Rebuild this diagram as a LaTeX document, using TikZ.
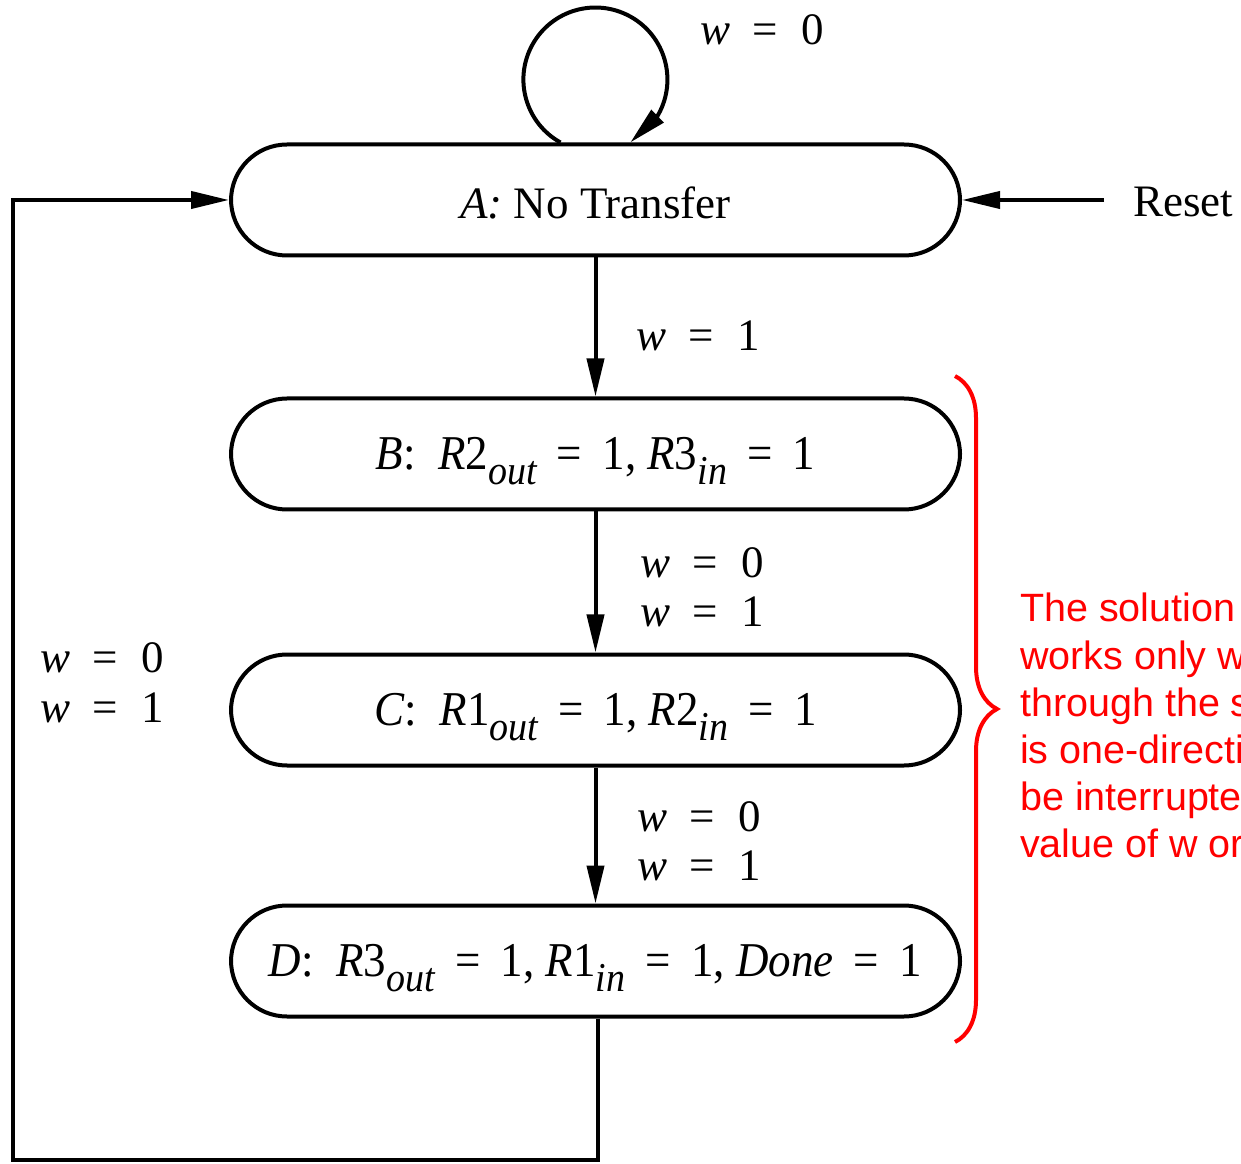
\documentclass[tikz,border=0pt]{standalone}
\usepackage{fontspec}
\setmainfont{Liberation Serif}
\newfontfamily\arialf{Liberation Sans}
\usetikzlibrary{arrows.meta,bending,decorations.pathreplacing}
\newcommand{\sbs}[1]{\raisebox{-0.3em}{\fontsize{38pt}{38pt}\selectfont\itshape #1}}
\newcommand{\eqsp}{\hspace{0.45em}=\hspace{0.45em}}
\newcommand{\weq}[1]{\textit{w}\hspace{22pt}=\hspace{24pt}#1}
\newcommand{\lowr}[1]{\raisebox{-7pt}[\height][\depth]{\scalebox{1}[1.08]{#1}}}
\begin{document}
\begin{tikzpicture}[x=1pt,y=1pt,
  every node/.style={font=\fontsize{45pt}{54pt}\selectfont},
  state/.style={draw, line width=4pt, rounded corners=56pt, minimum width=729pt, minimum height=111pt, inner sep=0pt},
  conn/.style={line width=4pt},
  arr/.style={conn, -{Triangle[length=38pt,width=17pt]}},
  lbl/.style={inner sep=0pt, anchor=west},
  note/.style={inner sep=0pt, anchor=base west, text=red, font=\arialf\fontsize{39.5pt}{47pt}\selectfont}
]
\useasboundingbox (0,0) rectangle (1241,1163);

\node[state] (A) at (595.5,963) {\raisebox{-3pt}[\height][\depth]{\textit{A:} No Transfer}};
\node[state] (B) at (595.5,709) {\lowr{\textit{B}:\ \ \textit{R}2\sbs{out}\eqsp 1, \textit{R}3\sbs{in}\eqsp 1}};
\node[state] (C) at (595.5,453) {\lowr{\textit{C}:\ \ \textit{R}1\sbs{out}\eqsp 1, \textit{R}2\sbs{in}\eqsp 1}};
\node[state] (D) at (595.5,202) {\lowr{\textit{D}:\ \ \textit{R}3\sbs{out}\eqsp 1, \textit{R}1\sbs{in}\eqsp 1, \textit{Done}\eqsp 1}};

% self loop
\draw[arr] ([xshift=-35pt]A.north) arc[start angle=241, end angle=-61, radius=72pt];
\node[lbl] (l0) at (700,1133) {\weq{0}};

% reset
\coordinate (rs) at (1104,963);
\draw[arr] (rs) -- (A.east);
\node[lbl] (reset) at (1133,961) {Reset};

% vertical transitions
\draw[arr] (A.south) -- (B.north);
\node[lbl] (lab1) at (636,827) {\weq{1}};
\draw[arr] (B.south) -- (C.north);
\node[lbl] (lbc0) at (640,600) {\weq{0}};
\node[lbl] (lbc1) at (640,551) {\weq{1}};
\draw[arr] (C.south) -- (D.north);
\node[lbl] (lcd0) at (637,346) {\weq{0}};
\node[lbl] (lcd1) at (637,297) {\weq{1}};

% return loop
\coordinate (bl) at (13,3);
\draw[arr] ([xshift=2pt]D.south) |- (bl) |- (A.west);
\node[lbl] (lda0) at (40,505) {\weq{0}};
\node[lbl] (lda1) at (40,455) {\weq{1}};

% brace and note
\draw[red, line width=4pt, decorate, decoration={brace, amplitude=42pt}] (955,787) -- (955,121);
\node[note] (n1) at (1020,541) {The solution given here};
\node[note] (n2) at (1020,494) {works only when going};
\node[note] (n3) at (1020,447) {through the sequence, which};
\node[note] (n4) at (1020,400) {is one-directional and cannot};
\node[note] (n5) at (1020,353) {be interrupted by a change in the};
\node[note] (n6) at (1020,306) {value of w or of anything else};
\end{tikzpicture}
\end{document}
